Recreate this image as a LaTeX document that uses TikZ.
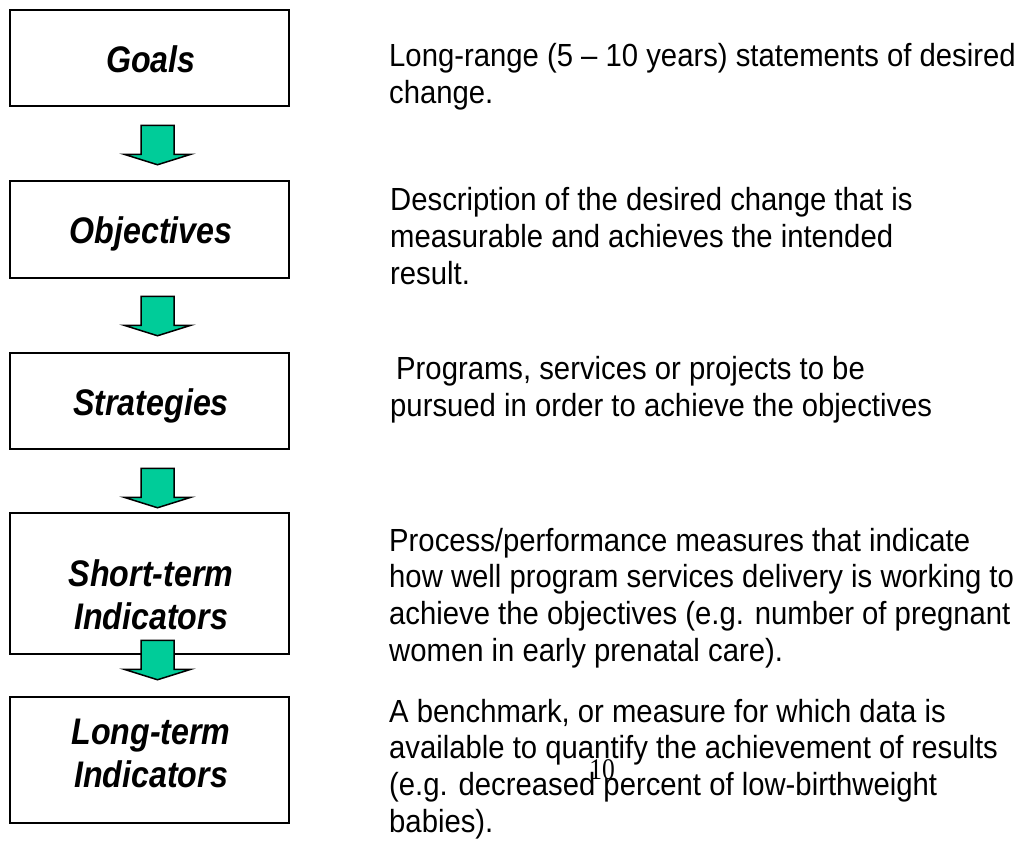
\documentclass[tikz,border=0pt]{standalone}
\usepackage{fontspec}
\setmainfont{Liberation Sans}
\newfontfamily\descfont[FakeStretch=0.915]{Liberation Sans}
\newfontfamily\lblfont[FakeStretch=0.87]{Liberation Sans}
\newfontfamily\numfont[FakeStretch=0.85]{Liberation Serif}
\usetikzlibrary{calc}
\definecolor{arrowgreen}{RGB}{0,204,153}
\tikzset{
  stagebox/.style={draw=black, line width=2.5pt, fill=white, minimum width=279pt, inner sep=0pt},
  stagelbl/.style={font=\lblfont\bfseries\itshape\fontsize{37}{43}\selectfont, align=center, inner sep=0pt, anchor=base},
  desc/.style={font=\descfont\fontsize{32}{36.6}\selectfont, align=left, inner sep=0pt, anchor=base west},
  blockarrow/.pic={\draw[fill=arrowgreen, line width=1.5pt, line join=miter]
    (-16.5,0) -- (16.5,0) -- (16.5,29) -- (33.5,29) -- (0,39.5) -- (-33.5,29) -- (-16.5,29) -- cycle;}
}
\begin{document}
\begin{tikzpicture}[x=1pt, y=-1pt]
\useasboundingbox (0,0) rectangle (1021,841);
% boxes
\node[stagebox, minimum height=96pt] (g) at (149.5,58) {};
\node[stagebox, minimum height=97pt] (o) at (149.5,229.5) {};
\node[stagebox, minimum height=96pt] (s) at (149.5,401) {};
\node[stagebox, minimum height=141pt] (st) at (149.5,583.5) {};
\node[stagebox, minimum height=126pt] (lt) at (149.5,760) {};
% labels (anchor base = last line)
\node[stagelbl] (gl) at (151,72) {Goals};
\node[stagelbl] (ol) at (151,243) {Objectives};
\node[stagelbl] (sl) at (151,415) {Strategies};
\node[stagelbl] (stl) at (151,629) {Short-term\\Indicators};
\node[stagelbl] (ltl) at (151,787) {Long-term\\Indicators};
% arrows
\pic at ($(g.south)+(8,18)$) {blockarrow};
\pic at ($(o.south)+(8,17)$) {blockarrow};
\pic at ($(s.south)+(8,18)$) {blockarrow};
\pic at ($(st.south)+(8,-15)$) {blockarrow};
% descriptions (anchor base west = last line)
\node[desc] (gd) at (389,103) {Long-range (5 – 10 years) statements of desired\\change.};
\node[desc] (od) at (390,284) {Description of the desired change that is\\measurable and achieves the intended\\result.};
\node[desc] (sd) at (390,416) {\hspace{6pt}Programs, services or projects to be\\pursued in order to achieve the objectives};
\node[desc] (std) at (389,661) {Process/performance measures that indicate\\how well program services delivery is working to\\achieve the objectives (e.g. number of pregnant\\women in early prenatal care).};
\node[desc] (ltd) at (389,832) {A benchmark, or measure for which data is\\available to quantify the achievement of results\\(e.g. decreased percent of low-birthweight\\babies).};
\node[font=\numfont\fontsize{30}{30}\selectfont, inner sep=0pt] (num) at (602,770) {10};
\end{tikzpicture}
\end{document}
